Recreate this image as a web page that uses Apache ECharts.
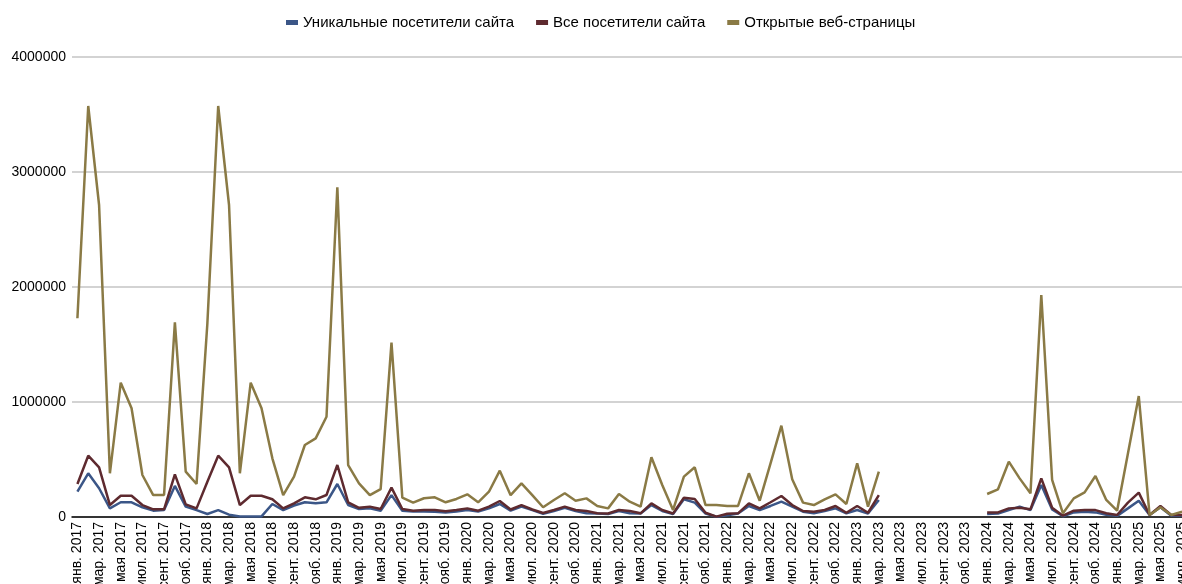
<!DOCTYPE html>
<html>
<head>
<meta charset="utf-8">
<script src="https://cdn.jsdelivr.net/npm/echarts@6/dist/echarts.min.js"></script>
<style>
html,body{margin:0;padding:0;background:#fff;}
#chart{width:1182px;height:584px;}
</style>
</head>
<body>
<div id="chart"></div>
<script>
const monthNames = ["янв.", "февр.", "мар.", "апр.", "мая", "июн.", "июл.", "авг.", "сент.", "окт.", "нояб.", "дек."];
const years = [2017, 2018, 2019, 2020, 2021, 2022, 2023, 2024, 2025];
const lastMonthIndex2025 = 6; // июл. 2025

const seriesNames = ["Уникальные посетители сайта", "Все посетители сайта", "Открытые веб-страницы"];

const uniqueVisitors = [
  220000, 380000, 250000, 75000, 128000, 128000, 84000, 55000, 60000, 270000, 90000, 60000,
  26000, 60000, 20000, 5000, 5000, 5000, 113000, 60000, 100000, 128000, 120000, 128000,
  287000, 104000, 70000, 75000, 55000, 190000, 55000, 48000, 48000, 45000, 40000, 48000,
  60000, 48000, 75000, 113000, 55000, 90000, 60000, 28000, 52000, 80000, 52000, 32000,
  30000, 25000, 52000, 32000, 30000, 104000, 52000, 25000, 154000, 125000, 30000, 2000,
  15000, 30000, 96000, 61000, 96000, 133000, 90000, 46000, 32000, 52000, 75000, 32000,
  61000, 30000, 148000, null, null, null, null, null, null, null, null, null,
  25000, 30000, 60000, 90000, 60000, 278000, 65000, 6000, 40000, 45000, 40000, 20000,
  10000, 75000, 142000, 17000, 85000, 10000, 10000
];

const allVisitors = [
  287000, 533000, 432000, 104000, 185000, 185000, 104000, 67000, 67000, 371000, 110000, 75000,
  307000, 533000, 432000, 104000, 185000, 185000, 154000, 75000, 119000, 171000, 154000, 191000,
  452000, 128000, 80000, 90000, 70000, 255000, 70000, 55000, 60000, 60000, 50000, 60000,
  75000, 55000, 90000, 139000, 65000, 104000, 65000, 35000, 61000, 90000, 61000, 52000,
  32000, 30000, 61000, 52000, 32000, 119000, 61000, 30000, 168000, 157000, 37000, 3000,
  28000, 32000, 119000, 75000, 128000, 183000, 104000, 52000, 46000, 61000, 96000, 37000,
  96000, 37000, 191000, null, null, null, null, null, null, null, null, null,
  40000, 40000, 75000, 80000, 67000, 336000, 80000, 11000, 55000, 60000, 60000, 32000,
  17000, 125000, 212000, 17000, 96000, 17000, 17000
];

const pageViews = [
  1728000, 3574000, 2713000, 380000, 1168000, 945000, 365000, 191000, 191000, 1693000, 394000, 287000,
  1684000, 3574000, 2713000, 380000, 1168000, 945000, 510000, 191000, 351000, 626000, 684000, 872000,
  2867000, 452000, 293000, 190000, 243000, 1516000, 168000, 125000, 163000, 171000, 128000, 157000,
  197000, 128000, 220000, 403000, 190000, 293000, 190000, 85000, 148000, 206000, 142000, 162000,
  96000, 75000, 200000, 133000, 90000, 519000, 278000, 61000, 351000, 432000, 104000, 104000,
  96000, 96000, 380000, 142000, 467000, 794000, 328000, 125000, 104000, 154000, 197000, 113000,
  467000, 90000, 394000, null, null, null, null, null, null, null, null, null,
  200000, 241000, 481000, 336000, 206000, 1930000, 322000, 32000, 162000, 214000, 357000, 148000,
  55000, 553000, 1052000, 17000, 84000, 17000, 46000
];

const yTicks = { min: 0, max: 4000000, interval: 1000000 };

const categories = [];
years.forEach(function (y) {
  monthNames.forEach(function (m, i) {
    if (y === 2025 && i > lastMonthIndex2025) return;
    categories.push(m + " " + y);
  });
});

const colors = ["#3b5687", "#5e2a2f", "#8a7a45"];
const font = "Liberation Sans, Arial, sans-serif";

const chart = echarts.init(document.getElementById("chart"), null, { renderer: "canvas" });
chart.setOption({
  animation: false,
  color: colors,
  legend: {
    top: 10,
    left: 281,
    icon: "rect",
    itemWidth: 12,
    itemHeight: 5,
    itemGap: 22,
    textStyle: { fontFamily: font, fontSize: 15, color: "#000" },
    data: seriesNames
  },
  grid: { left: 72, width: 1115.5, top: 57, bottom: 67, containLabel: false, outerBoundsMode: "none" },
  xAxis: {
    type: "category",
    data: categories,
    boundaryGap: true,
    axisLine: { show: true, lineStyle: { color: "#000", width: 1.5 } },
    axisTick: { show: false },
    axisLabel: {
      interval: 1,
      rotate: 90,
      margin: 5,
      fontFamily: font,
      fontSize: 14,
      color: "#000"
    },
    splitLine: { show: false }
  },
  yAxis: {
    type: "value",
    min: yTicks.min,
    max: yTicks.max,
    interval: yTicks.interval,
    axisLine: { show: false },
    axisTick: { show: false },
    axisLabel: {
      margin: 6, fontFamily: font, fontSize: 14, color: "#000",
      formatter: function (v) { return String(v); }
    },
    splitLine: { lineStyle: { color: "#c4c4c4", width: 1.5 } }
  },
  series: [
    { name: seriesNames[0], type: "line", data: uniqueVisitors, showSymbol: false, connectNulls: false, lineStyle: { width: 2.5 } },
    { name: seriesNames[1], type: "line", data: allVisitors, showSymbol: false, connectNulls: false, lineStyle: { width: 2.5 } },
    { name: seriesNames[2], type: "line", data: pageViews, showSymbol: false, connectNulls: false, lineStyle: { width: 2.5 } }
  ]
});
</script>
</body>
</html>
